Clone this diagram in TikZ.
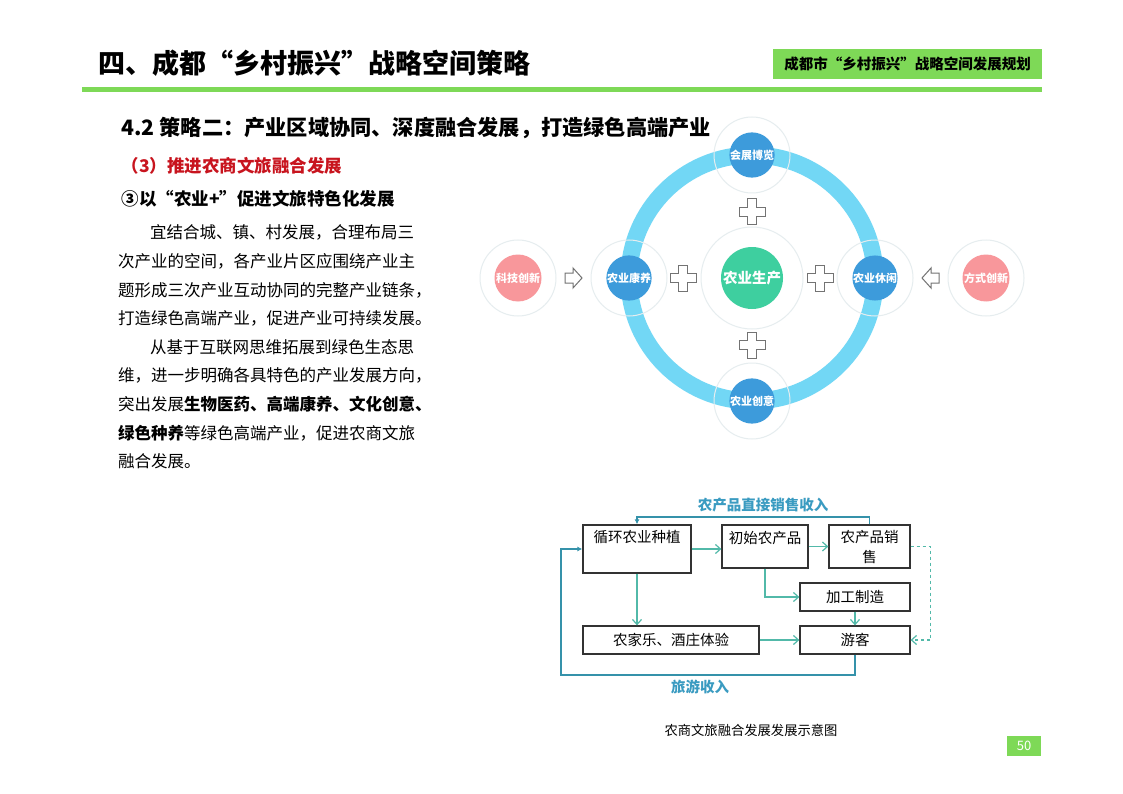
\documentclass[tikz,border=0pt]{standalone}
\usepackage{fontspec}
\setmainfont{Noto Sans CJK SC}
\usetikzlibrary{arrows.meta,calc}

\definecolor{titlegreen}{HTML}{7ED957}
\definecolor{headred}{HTML}{C8141E}
\definecolor{ringblue}{HTML}{72D7F5}
\definecolor{nodeblue}{HTML}{3D9BDB}
\definecolor{coregreen}{HTML}{3ECF9F}
\definecolor{rosepink}{HTML}{F8979B}
\definecolor{faintgray}{HTML}{E6EDEF}
\definecolor{flowteal}{HTML}{52B9A9}
\definecolor{incomeblue}{HTML}{3A9BC1}
\definecolor{loopblue}{HTML}{3592AA}

\tikzset{
  spoke/.style={circle, fill=nodeblue, minimum size=45pt, inner sep=0pt, text=white, font=\fontsize{11}{11}\bfseries},
  driver/.style={circle, fill=rosepink, minimum size=47pt, inner sep=0pt, text=white, font=\fontsize{11}{11}\bfseries},
  core/.style={circle, fill=coregreen, minimum size=62pt, inner sep=0pt, text=white, font=\fontsize{14.5}{15}\bfseries},
  faintring/.style={draw=faintgray, line width=1pt},
  hollowshape/.style={draw=black!55, line width=1pt, fill=white},
  flowbox/.style={draw=black!80, line width=1.3pt, fill=white, inner sep=0pt, align=center, font=\fontsize{14.5}{20}\selectfont},
  flowarrow/.style={draw=flowteal, line width=1.2pt, -{Straight Barb[length=5pt,width=9pt]}},
  loopline/.style={draw=loopblue, line width=1.2pt, -{Latex[length=5pt,width=5pt]}},
  incometext/.style={text=incomeblue, font=\fontsize{14.5}{15}\bfseries}
}

\begin{document}
\begin{tikzpicture}[x=1pt, y=-1pt, >=Latex]
		\useasboundingbox[fill=white] (0,0) rectangle (1123,794);
		
		% Page header
		\node[anchor=west, font=\fontsize{27}{27}\bfseries] (title) at (95,63) {四、成都“乡村振兴”战略空间策略};
		\draw[titlegreen, line width=5pt] (82,89.5) -- (1042,89.5);
		\node[fill=titlegreen, minimum width=269pt, minimum height=30pt, font=\fontsize{14.5}{15}\bfseries] (plan) at (907.5,64) {成都市“乡村振兴”战略空间发展规划};
		
		% Headings
		\node[anchor=west, font=\fontsize{21.2}{21}\bfseries] (sect) at (118,128) {4.2 策略二：产业区域协同、深度融合发展，打造绿色高端产业};
		\node[anchor=west, text=headred, font=\fontsize{17.5}{18}\bfseries] (sub) at (118,166) {（3）推进农商文旅融合发展};
		\node[anchor=west, font=\fontsize{17.5}{18}\bfseries] (point) at (118,199) {③以“农业+”促进文旅特色化发展};
		
		% Body text, one node per line
		\foreach \x/\y/\ln in {
			150/232/{宜结合城、镇、村发展，合理布局三},
			118/261/{次产业的空间，各产业片区应围绕产业主},
			118/290/{题形成三次产业互动协同的完整产业链条，},
			118/318/{打造绿色高端产业，促进产业可持续发展。},
			150/347/{从基于互联网思维拓展到绿色生态思},
			118/375/{维，进一步明确各具特色的产业发展方向，},
			118/404/{突出发展\textbf{生物医药、高端康养、文化创意、}},
			118/433/{\textbf{绿色种养}等绿色高端产业，促进农商文旅},
			118/461/{融合发展。}} {
			\node[anchor=west, inner sep=0pt, font=\fontsize{16.5}{17}\selectfont] (line\y) at (\x,\y) {\ln};
		}
		
		% Ring diagram
		\coordinate (hub) at (752,278);
		\draw[ringblue, line width=17pt] (hub) circle (123);
		\draw[faintring] (hub) circle (51);
		\foreach \dx/\dy in {0/-123, 0/123, -123/0, 123/0} {
			\draw[faintring] ($(hub)+(\dx,\dy)$) circle (38);
		}
		\draw[faintring] (518,278) circle (38);
		\draw[faintring] (986,278) circle (38);
		
		\node[core] (agri) at (hub) {农业生产};
		\node[spoke] (expo) at ($(hub)+(0,-123)$) {会展博览};
		\node[spoke] (creative) at ($(hub)+(0,123)$) {农业创意};
		\node[spoke] (health) at ($(hub)+(-123,0)$) {农业康养};
		\node[spoke] (leisure) at ($(hub)+(123,0)$) {农业休闲};
		\node[driver] (tech) at (518,278) {科技创新};
		\node[driver] (mode) at (986,278) {方式创新};
		
		% Plus signs
		\foreach \cx/\cy in {752/212, 752/345, 683/278, 820/278} {
			\draw[hollowshape] (\cx-4.3,\cy-13) -- ++(8.6,0) -- ++(0,8.7) -- ++(8.7,0) -- ++(0,8.6)
				-- ++(-8.7,0) -- ++(0,8.7) -- ++(-8.6,0) -- ++(0,-8.7) -- ++(-8.7,0) -- ++(0,-8.6) -- ++(8.7,0) -- cycle;
		}
		
		% Hollow arrows
		\draw[hollowshape] (565,273) -- (573,273) -- (573,268) -- (582,278) -- (573,288) -- (573,283) -- (565,283) -- cycle;
		\draw[hollowshape] (939,273) -- (931,273) -- (931,268) -- (922,278) -- (931,288) -- (931,283) -- (939,283) -- cycle;
		
		% Flow chart
		\node[flowbox, minimum width=108pt, minimum height=48pt] (plant) at (637,549) {循环农业种植\\ \strut};
		\node[flowbox, minimum width=86pt, minimum height=43pt] (raw) at (765,546.5) {初始农产品\\[-8pt] \strut};
		\node[flowbox, minimum width=81pt, minimum height=43pt] (sale) at (869.5,546.5) {农产品销\\售};
		\node[flowbox, minimum width=110pt, minimum height=28pt] (proc) at (855,597) {加工制造};
		\node[flowbox, minimum width=176pt, minimum height=28pt] (farm) at (671,640) {农家乐、酒庄体验};
		\node[flowbox, minimum width=110pt, minimum height=28pt] (tourist) at (855,640) {游客};
		
		\draw[flowarrow] (plant.east) -- (raw.west |- plant.east);
		\draw[flowarrow] (raw.east) -- (sale.west);
		\draw[flowarrow] (raw.south) |- (proc.west);
		\draw[flowarrow] (proc.south) -- (tourist.north);
		\draw[flowarrow] (plant.south) -- (plant.south |- farm.north);
		\draw[flowarrow] (farm.east) -- (tourist.west);
		\draw[flowarrow, dashed] (sale.east) -- ++(20,0) |- (tourist.east);
		
		% Income loops
		\coordinate (toploop) at (637,517);
		\coordinate (bottomloop) at (561,675);
		\draw[loopline] (sale.north) |- (toploop) -- (plant.north);
		\draw[loopline] (tourist.south) |- (bottomloop) |- (plant.west);
		\node[incometext] (salesincome) at (763,505) {农产品直接销售收入};
		\node[incometext] (tourincome) at (700,687) {旅游收入};
		
		% Caption and page number
		\node[font=\fontsize{13.3}{14}\selectfont] (caption) at (751,730) {农商文旅融合发展发展示意图};
		\node[fill=titlegreen, text=white, minimum width=34pt, minimum height=20pt, inner sep=0pt, font=\fontsize{13}{13}\selectfont] (pagenum) at (1024,746) {50};
		
	\end{tikzpicture}
\end{document}
